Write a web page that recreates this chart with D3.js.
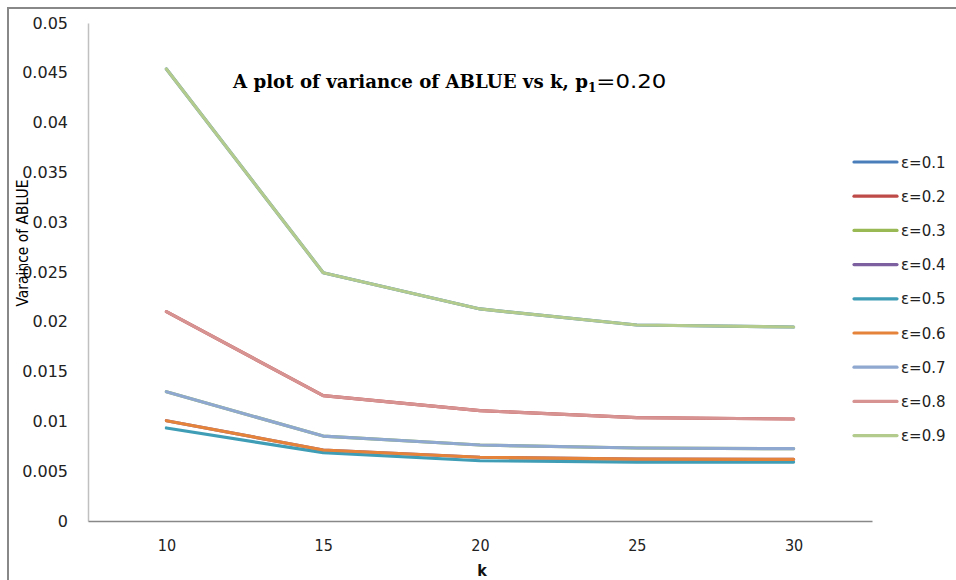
<!DOCTYPE html>
<html>
<head>
<meta charset="utf-8">
<script src="https://cdn.jsdelivr.net/npm/d3@7"></script>
<style>
  body { margin: 0; background: #fff; }
</style>
</head>
<body>
<div id="chart"></div>
<script>
var kValues = [10, 15, 20, 25, 30];
var epsLabels = ['ε=0.1', 'ε=0.2', 'ε=0.3', 'ε=0.4', 'ε=0.5', 'ε=0.6', 'ε=0.7', 'ε=0.8', 'ε=0.9'];
var yTicks = [0, 0.005, 0.01, 0.015, 0.02, 0.025, 0.03, 0.035, 0.04, 0.045, 0.05];

// series 0.1-0.4 lie under their mirror series (0.9-0.6)
var eps01 = [0.04538, 0.02493, 0.02129, 0.01968, 0.01948];
var eps02 = [0.02102, 0.01258, 0.01108, 0.01037, 0.01024];
var eps03 = [0.01298, 0.00853, 0.00763, 0.00733, 0.00726];
var eps04 = [0.01007, 0.00713, 0.00640, 0.00622, 0.00619];
var eps05 = [0.00934, 0.00686, 0.00605, 0.00592, 0.00592];
var eps06 = [0.01007, 0.00713, 0.00640, 0.00622, 0.00619];
var eps07 = [0.01298, 0.00853, 0.00763, 0.00733, 0.00726];
var eps08 = [0.02102, 0.01258, 0.01108, 0.01037, 0.01024];
var eps09 = [0.04538, 0.02493, 0.02129, 0.01968, 0.01948];

var series = [eps01, eps02, eps03, eps04, eps05, eps06, eps07, eps08, eps09];
var colors = ['#4a7ebb', '#be4b48', '#98b954', '#7d60a0', '#3f9db5', '#e5833a', '#8ea8d0', '#d69392', '#b3cc8e'];

var width = 956, height = 580;
var plotLeft = 88, plotRight = 872, plotTop = 23, plotBottom = 521;

var svg = d3.select("#chart").append("svg").attr("width", width).attr("height", height);

// outer frame (cut off at right and bottom)
svg.append("rect").attr("x", 8).attr("y", 8).attr("width", 960).attr("height", 600)
    .attr("fill", "none").attr("stroke", "#888").attr("stroke-width", 2);

var x = d3.scalePoint().domain(kValues).range([plotLeft, plotRight]).padding(0.5);
var y = d3.scaleLinear().domain([0, 0.05]).range([plotBottom, plotTop]);

var yAxis = svg.append("g").attr("transform", "translate(" + plotLeft + ",0)")
    .call(d3.axisLeft(y).tickValues(yTicks).tickSize(0).tickPadding(20).tickFormat(function(d) { return String(+d.toFixed(3)); }));
yAxis.select(".domain").attr("stroke", "#c0c0c0").attr("stroke-width", 1.5);
yAxis.selectAll("text").attr("font-family", "DejaVu Sans").attr("font-size", 16).attr("fill", "#222");

var xAxis = svg.append("g").attr("transform", "translate(0," + plotBottom + ")")
    .call(d3.axisBottom(x).tickSize(0).tickPadding(19).tickSizeOuter(0));
xAxis.select(".domain").attr("stroke", "#888").attr("stroke-width", 1.5);
xAxis.selectAll("text").attr("font-family", "DejaVu Sans Condensed").attr("font-size", 16).attr("fill", "#222");

var line = d3.line().x(function(d, i) { return x(kValues[i]); }).y(function(d) { return y(d); });

svg.selectAll(".series").data(series).enter().append("path")
    .attr("class", "series")
    .attr("d", line)
    .attr("fill", "none")
    .attr("stroke", function(d, i) { return colors[i]; })
    .attr("stroke-width", 3.2)
    .attr("stroke-linejoin", "round")
    .attr("stroke-linecap", "round");

// legend
var legend = svg.selectAll(".legend").data(epsLabels).enter().append("g")
    .attr("class", "legend")
    .attr("transform", function(d, i) { return "translate(854," + (162 + i * 34.2) + ")"; });
legend.append("line").attr("x1", 0).attr("x2", 43).attr("y1", 0).attr("y2", 0)
    .attr("stroke", function(d, i) { return colors[i]; }).attr("stroke-width", 3.2).attr("stroke-linecap", "round");
legend.append("text").attr("x", 47).attr("y", 5.5).text(function(d) { return d; })
    .attr("font-family", "DejaVu Sans").attr("font-size", 15).attr("fill", "#222");

// title
var title = svg.append("text").attr("x", 233).attr("y", 88)
    .attr("font-family", "DejaVu Serif").attr("font-weight", "bold").attr("font-size", 18).attr("fill", "#000");
title.append("tspan").text("A plot of variance of ABLUE vs k, p")
    .attr("textLength", 355).attr("lengthAdjust", "spacingAndGlyphs");
title.append("tspan").text("1").attr("font-size", 12).attr("dy", 4);
title.append("tspan").text("=0.20").attr("dy", -4).attr("font-family", "DejaVu Sans").attr("font-weight", "normal").attr("font-size", 19)
    .attr("textLength", 70).attr("lengthAdjust", "spacingAndGlyphs");

// axis titles
svg.append("text").attr("transform", "translate(28,243) rotate(-90)")
    .attr("text-anchor", "middle").attr("font-family", "DejaVu Sans Condensed").attr("font-size", 15)
    .attr("textLength", 127).attr("lengthAdjust", "spacingAndGlyphs").attr("fill", "#000")
    .text("Varaince of ABLUE");

svg.append("text").attr("x", 482).attr("y", 576).attr("text-anchor", "middle")
    .attr("font-family", "DejaVu Sans Condensed").attr("font-weight", "bold").attr("font-size", 16).attr("fill", "#111")
    .text("k");
</script>
</body>
</html>
